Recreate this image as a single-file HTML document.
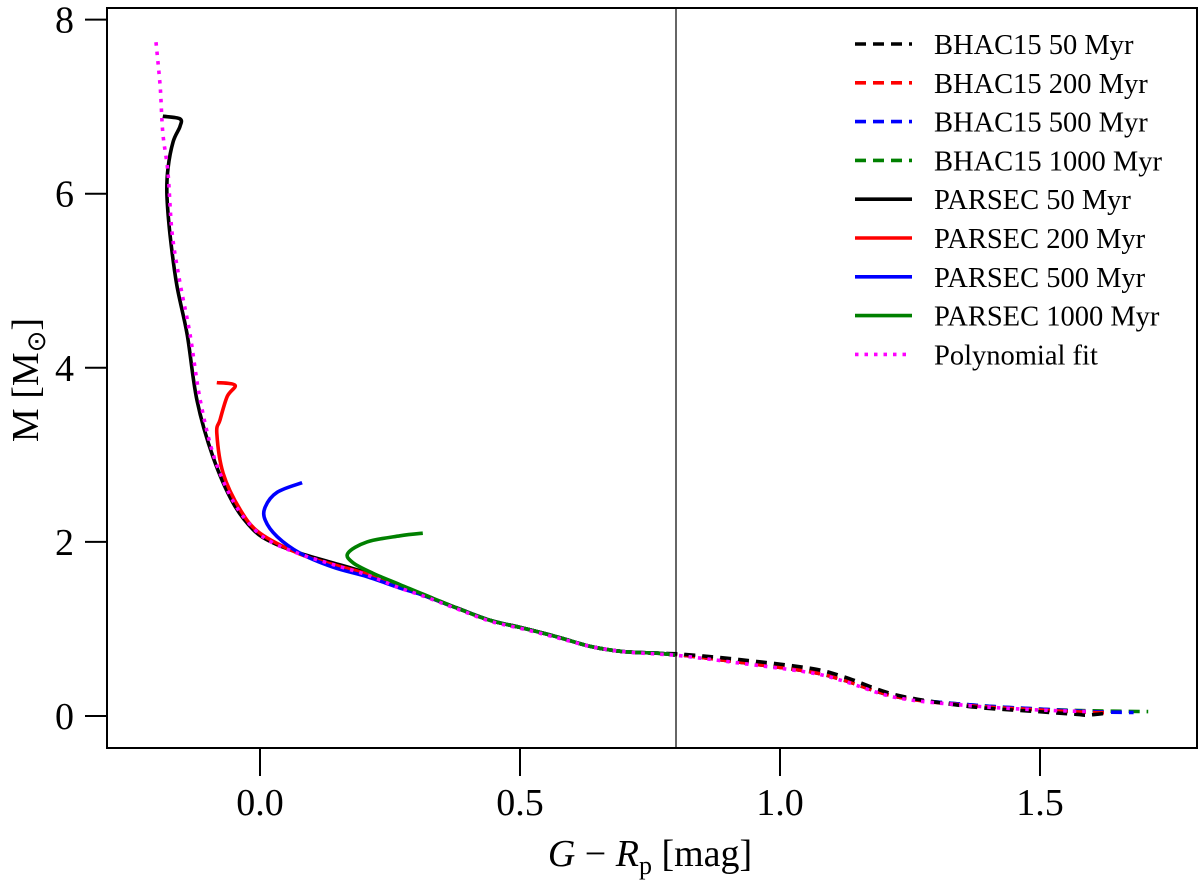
<!DOCTYPE html>
<html><head><meta charset="utf-8"><style>
html,body{margin:0;padding:0;background:#fff;}
svg{display:block;font-family:"Liberation Serif",serif;}
</style></head><body>
<svg id="chart" width="1200" height="881" viewBox="0 0 1200 881" xmlns="http://www.w3.org/2000/svg">
<g id="marks"></g>
<g id="axes"></g>
<g id="legend"></g>
</svg>
<script>
const xTicks = [0.0, 0.5, 1.0, 1.5];
const xTickLabels = ["0.0", "0.5", "1.0", "1.5"];
const yTicks = [0, 2, 4, 6, 8];
const yTickLabels = ["0", "2", "4", "6", "8"];
const refLineX = 0.8;

const parsec50X = [-0.187,-0.154,-0.154,-0.167,-0.177,-0.179,-0.173,-0.160,-0.140,-0.121,-0.090,-0.052,-0.013,0.025,0.077,0.140,0.206,0.269,0.313,0.379,0.442,0.506,0.571,0.635,0.698,0.769,0.798];
const parsec50Y = [6.89,6.86,6.77,6.60,6.29,5.99,5.53,4.95,4.38,3.62,2.97,2.45,2.14,1.99,1.87,1.76,1.64,1.48,1.39,1.24,1.10,1.01,0.91,0.80,0.74,0.72,0.70];
const parsec200X = [-0.083,-0.048,-0.063,-0.077,-0.083,-0.071,-0.038,0.000,0.077,0.140,0.206,0.269,0.313,0.379,0.442,0.506,0.571,0.635,0.698,0.769,0.798];
const parsec200Y = [3.83,3.80,3.67,3.40,3.25,2.79,2.37,2.10,1.86,1.74,1.63,1.48,1.39,1.24,1.10,1.01,0.91,0.80,0.74,0.72,0.70];
const parsec500X = [0.081,0.033,0.010,0.010,0.033,0.077,0.140,0.206,0.269,0.313,0.379,0.442,0.506,0.571,0.635,0.698,0.769,0.798];
const parsec500Y = [2.68,2.57,2.40,2.25,2.06,1.87,1.71,1.60,1.47,1.39,1.24,1.10,1.01,0.91,0.80,0.74,0.72,0.70];
const parsec1000X = [0.313,0.269,0.206,0.169,0.179,0.217,0.269,0.313,0.379,0.442,0.506,0.571,0.635,0.698,0.769,0.798];
const parsec1000Y = [2.10,2.07,2.00,1.87,1.76,1.64,1.51,1.40,1.24,1.10,1.01,0.91,0.80,0.74,0.72,0.70];

const bhac50X = [0.313,0.379,0.442,0.506,0.571,0.635,0.698,0.769,0.812,0.919,1.056,1.123,1.225,1.362,1.496,1.570,1.590,1.625];
const bhac50Y = [1.39,1.24,1.10,1.01,0.91,0.80,0.74,0.72,0.71,0.65,0.55,0.45,0.24,0.11,0.05,0.02,0.01,0.03];
const bhac200X = [0.313,0.379,0.442,0.506,0.571,0.635,0.698,0.769,0.812,0.919,1.056,1.123,1.225,1.362,1.496,1.598,1.630];
const bhac200Y = [1.39,1.24,1.10,1.01,0.91,0.80,0.74,0.72,0.70,0.62,0.51,0.41,0.22,0.12,0.07,0.04,0.04];
const bhac500X = [0.313,0.379,0.442,0.506,0.571,0.635,0.698,0.769,0.812,0.919,1.056,1.123,1.225,1.362,1.496,1.598,1.680];
const bhac500Y = [1.39,1.24,1.10,1.01,0.91,0.80,0.74,0.72,0.70,0.62,0.51,0.41,0.22,0.13,0.08,0.05,0.04];
const bhac1000X = [0.313,0.379,0.442,0.506,0.571,0.635,0.698,0.769,0.812,0.919,1.056,1.123,1.225,1.362,1.496,1.598,1.708];
const bhac1000Y = [1.40,1.24,1.10,1.01,0.91,0.80,0.74,0.72,0.70,0.62,0.51,0.41,0.22,0.13,0.08,0.06,0.05];

const polyX = [-0.200,-0.192,-0.187,-0.177,-0.169,-0.154,-0.135,-0.115,-0.088,-0.050,-0.010,0.025,0.077,0.140,0.206,0.269,0.313,0.379,0.442,0.506,0.571,0.635,0.698,0.769,0.812,0.919,1.056,1.123,1.225,1.362,1.496,1.598];
const polyY = [7.74,7.23,6.70,6.24,5.55,4.98,4.40,3.63,2.97,2.45,2.14,1.99,1.86,1.74,1.62,1.47,1.38,1.23,1.09,1.00,0.90,0.80,0.74,0.71,0.69,0.61,0.50,0.40,0.21,0.12,0.07,0.05];

const legendLabels = ["BHAC15 50 Myr","BHAC15 200 Myr","BHAC15 500 Myr","BHAC15 1000 Myr","PARSEC 50 Myr","PARSEC 200 Myr","PARSEC 500 Myr","PARSEC 1000 Myr","Polynomial fit"];

const NS = "http://www.w3.org/2000/svg";
const L = 107, R = 1197, T = 8, B = 748;
function sx(v){ return 260 + 520 * v; }
function sy(v){ return 716 - 87.05 * v; }
function mk(tag, attrs, parent){
  const e = document.createElementNS(NS, tag);
  for (const k in attrs) e.setAttribute(k, attrs[k]);
  parent.appendChild(e); return e;
}
function smoothPath(xs, ys){
  const p = xs.map((v,i) => [sx(v), sy(ys[i])]);
  let d = "M" + p[0][0].toFixed(1) + "," + p[0][1].toFixed(1);
  for (let i = 0; i < p.length - 1; i++){
    const p0 = p[Math.max(0,i-1)], p1 = p[i], p2 = p[i+1], p3 = p[Math.min(p.length-1,i+2)];
    const c1x = p1[0] + (p2[0]-p0[0])/6, c1y = p1[1] + (p2[1]-p0[1])/6;
    const c2x = p2[0] - (p3[0]-p1[0])/6, c2y = p2[1] - (p3[1]-p1[1])/6;
    d += " C" + c1x.toFixed(1) + "," + c1y.toFixed(1) + " " + c2x.toFixed(1) + "," + c2y.toFixed(1) + " " + p2[0].toFixed(1) + "," + p2[1].toFixed(1);
  }
  return d;
}
const marks = document.getElementById('marks');
const axes = document.getElementById('axes');
const legend = document.getElementById('legend');

const series = [
  {x: bhac1000X, y: bhac1000Y, c: "#008000", d: "11,7", name: "bhac15-1000-myr-line"},
  {x: bhac500X, y: bhac500Y, c: "#0000ff", d: "11,7", name: "bhac15-500-myr-line"},
  {x: bhac200X, y: bhac200Y, c: "#ff0000", d: "11,7", name: "bhac15-200-myr-line"},
  {x: bhac50X, y: bhac50Y, c: "#000000", d: "11,7", name: "bhac15-50-myr-line"},
  {x: parsec50X, y: parsec50Y, c: "#000000", d: null, name: "parsec-50-myr-line"},
  {x: parsec200X, y: parsec200Y, c: "#ff0000", d: null, name: "parsec-200-myr-line"},
  {x: parsec500X, y: parsec500Y, c: "#0000ff", d: null, name: "parsec-500-myr-line"},
  {x: parsec1000X, y: parsec1000Y, c: "#008000", d: null, name: "parsec-1000-myr-line"},
  {x: polyX, y: polyY, c: "#ff00ff", d: "3.5,6", name: "polynomial-fit-line"}
];
series.forEach(s => {
  const a = {d: smoothPath(s.x, s.y), fill: "none", stroke: s.c, "stroke-width": 3.6, "stroke-linejoin": "round"};
  if (s.d) a["stroke-dasharray"] = s.d;
  const p = mk('path', a, marks);
  
  
});

const vl = mk('line', {x1: sx(refLineX), x2: sx(refLineX), y1: T, y2: B, stroke: "#000", "stroke-width": 1.2}, axes);



const frame = mk('rect', {x: L, y: T, width: R - L, height: B - T, fill: "none", stroke: "#000", "stroke-width": 2}, axes);



xTicks.forEach((v,i) => {
  const t = mk('line', {x1: sx(v), x2: sx(v), y1: B, y2: B + 28, stroke: "#000", "stroke-width": 2}, axes);
  
  
  const tx = mk('text', {x: sx(v), y: 815, "text-anchor": "middle", "font-size": 38}, axes);
  tx.textContent = xTickLabels[i];
  
  
});
yTicks.forEach((v,i) => {
  const t = mk('line', {x1: L - 22, x2: L, y1: sy(v), y2: sy(v), stroke: "#000", "stroke-width": 2}, axes);
  
  
  const tx = mk('text', {x: 74, y: sy(v) + 13, "text-anchor": "end", "font-size": 38}, axes);
  tx.textContent = yTickLabels[i];
  
  
});

const xl = mk('text', {x: 650, y: 866, "text-anchor": "middle", "font-size": 38}, axes);
xl.innerHTML = '<tspan font-style="italic">G</tspan> − <tspan font-style="italic">R</tspan><tspan font-size="26" dy="8">p</tspan><tspan dy="-8"> [mag]</tspan>';



const yl = mk('text', {x: 0, y: 0, "text-anchor": "middle", "font-size": 38, transform: "translate(38,380) rotate(-90)"}, axes);
yl.innerHTML = 'M [M<tspan font-size="26" dy="7">⊙</tspan><tspan dy="-7">]</tspan>';



legendLabels.forEach((lab,i) => {
  const s = series[[3,2,1,0,4,5,6,7,8][i]];
  const y = 44 + i * 38.8;
  const a = {x1: 855, x2: 912, y1: y, y2: y, stroke: s.c, "stroke-width": 3.6};
  if (s.d) a["stroke-dasharray"] = s.d;
  const ln = mk('line', a, legend);
  
  
  const tx = mk('text', {x: 934, y: y + 10, "font-size": 28.5}, legend);
  tx.textContent = lab;
  
  
});
</script>
</body></html>
